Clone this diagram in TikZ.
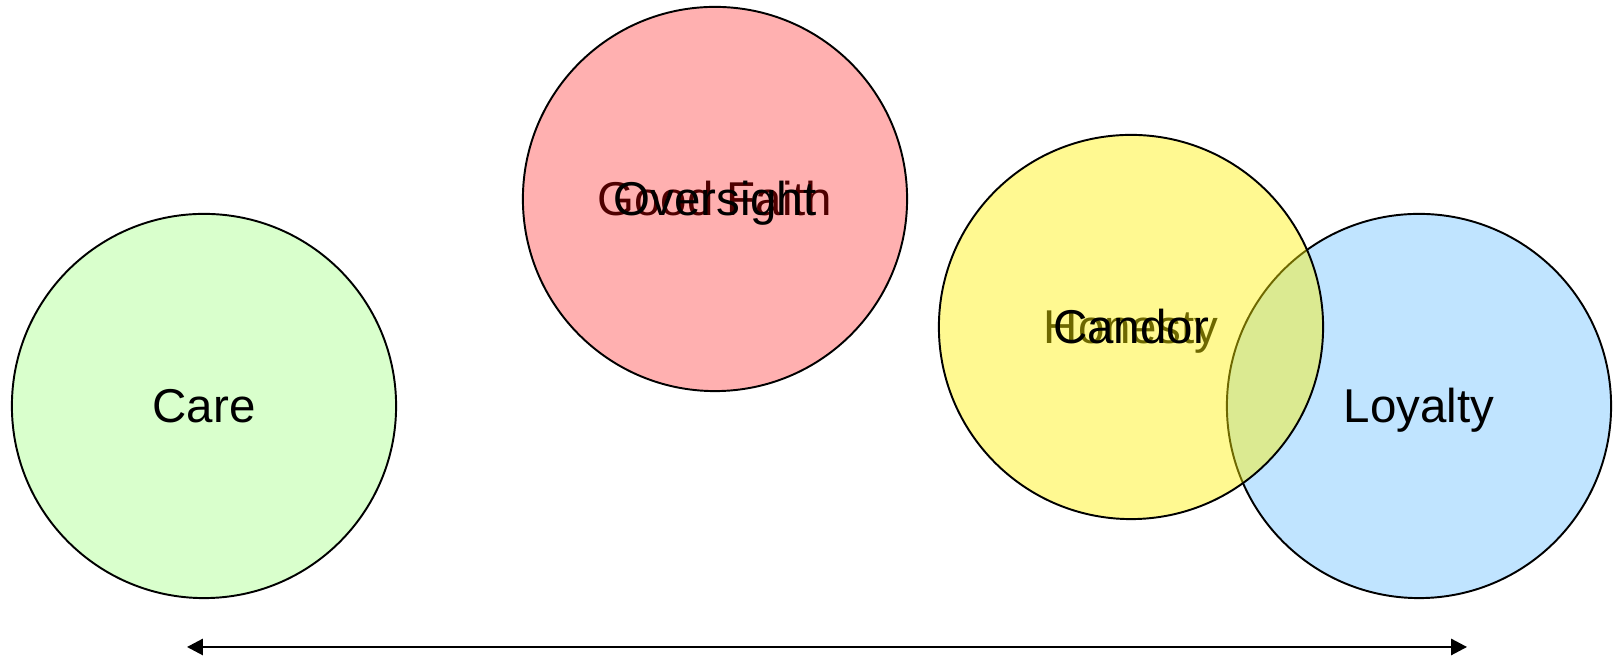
\documentclass[tikz,border=0pt]{standalone}
\usepackage{fontspec}
\setmainfont{Liberation Sans}
\usetikzlibrary{arrows.meta}
\definecolor{carefill}{RGB}{217,255,204}
\definecolor{loyaltyfill}{RGB}{192,228,255}
\begin{document}
\begin{tikzpicture}
% positions in pixels of a 1620 x 659 canvas, y pointing down
\def\pxsz{0.01cm}
\providecommand{\valueLineWidth}{0.55pt}
\providecommand{\valueFontSize}{13.5}
\begin{scope}[x=\pxsz, y=-\pxsz, line cap=round, line join=round,
  ring/.style={circle, draw=black, line width=\valueLineWidth, minimum size=3.84cm, inner sep=0pt},
  word/.style={font=\fontsize{\valueFontSize}{16}\selectfont, text height=9.2pt, text depth=0pt, inner sep=0pt}]
  \useasboundingbox (0,0) rectangle (1620,659);
  % Circles standing alone
  \node[ring, fill=carefill] (care) at (204,406) {};
  \node[word] (care text) at (care.center) {Care};
  \node[ring, fill=loyaltyfill] (loyalty) at (1419,406) {};
  \node[word] (loyalty text) at (loyalty.center) {Loyalty};
  % Older words, seen through the circles laid over them
  \node[word] (good faith) at (715,199) {Good Faith};
  \node[word] (honesty) at (1131,327) {Honesty};
  % See-through circles and the words on top
  \begin{scope}[fill opacity=0.31]
    \node[ring, fill=red] (oversight ring) at (good faith.center) {};
  \end{scope}
  \node[word] (oversight) at (oversight ring.center) {Oversight};
  \begin{scope}[fill opacity=0.43]
    \node[ring, fill=yellow] (candor ring) at (honesty.center) {};
  \end{scope}
  \node[word] (candor) at (candor ring.center) {Candor};
  % Double headed axis along the bottom
  \coordinate (axis left) at (187,647);
  \coordinate (axis right) at (1467,647);
  \draw[line width=\valueLineWidth, {Triangle[length=4.5pt, width=4.6pt]}-{Triangle[length=4.5pt, width=4.6pt]}] (axis left) -- (axis right);
\end{scope}
\end{tikzpicture}
\end{document}
